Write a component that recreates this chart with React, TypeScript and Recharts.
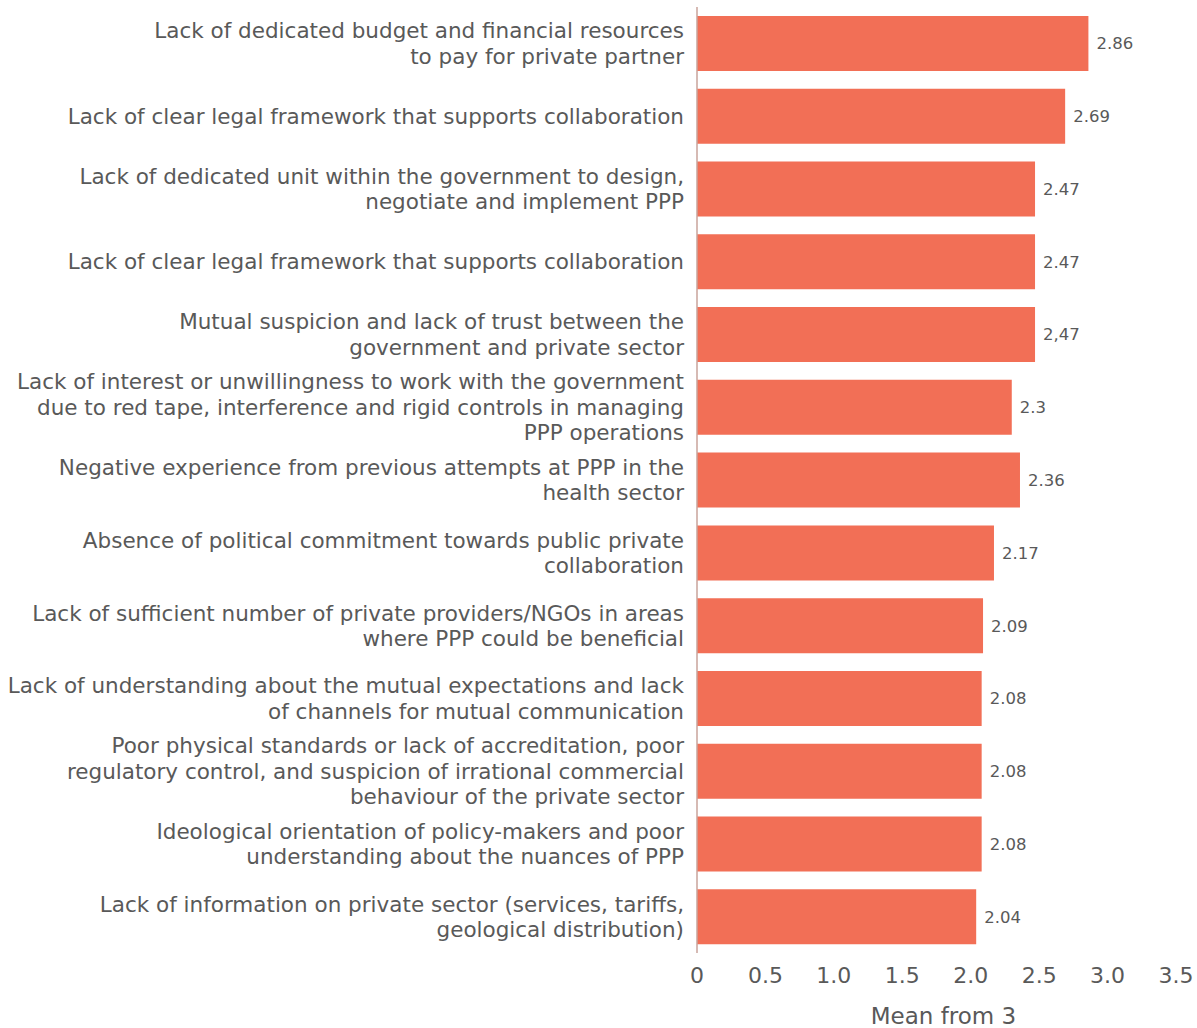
import React from "react";
import { BarChart, Bar, XAxis, YAxis, LabelList } from "recharts";

// barriers to PPP, top to bottom as in the chart
const barriers = [
  "Lack of dedicated budget and financial resources\nto pay for private partner",
  "Lack of clear legal framework that supports collaboration",
  "Lack of dedicated unit within the government to design,\nnegotiate and implement PPP",
  "Lack of clear legal framework that supports collaboration",
  "Mutual suspicion and lack of trust between the\ngovernment and private sector",
  "Lack of interest or unwillingness to work with the government\ndue to red tape, interference and rigid controls in managing\nPPP operations",
  "Negative experience from previous attempts at PPP in the\nhealth sector",
  "Absence of political commitment towards public private\ncollaboration",
  "Lack of sufficient number of private providers/NGOs in areas\nwhere PPP could be beneficial",
  "Lack of understanding about the mutual expectations and lack\nof channels for mutual communication",
  "Poor physical standards or lack of accreditation, poor\nregulatory control, and suspicion of irrational commercial\nbehaviour of the private sector",
  "Ideological orientation of policy-makers and poor\nunderstanding about the nuances of PPP",
  "Lack of information on private sector (services, tariffs,\ngeological distribution)",
];

const means = [2.86, 2.69, 2.47, 2.47, 2.47, 2.3, 2.36, 2.17, 2.09, 2.08, 2.08, 2.08, 2.04];

// printed labels (one uses a comma in the source)
const meanLabels = ["2.86", "2.69", "2.47", "2.47", "2,47", "2.3", "2.36", "2.17", "2.09", "2.08", "2.08", "2.08", "2.04"];

const xTicks = [0, 0.5, 1, 1.5, 2, 2.5, 3, 3.5];

const data = barriers.map((name, i) => ({
  key: `b${i}`,
  name,
  mean: means[i],
  label: meanLabels[i],
}));

const FONT = "'DejaVu Sans', sans-serif";
const GREY = "#595959";

function BarrierTick(props: any) {
  const { x, y, payload } = props;
  const row = data.find((d) => d.key === payload.value);
  const lines = (row ? row.name : "").split("\n");
  const lh = 25.5;
  const start = -((lines.length - 1) * lh) / 2;
  const tx = x - 5;
  return (
    <text x={tx} y={y} textAnchor="end" fill={GREY} fontSize={21.5} fontFamily={FONT}>
      {lines.map((l, i) => (
        <tspan key={i} x={tx} y={y + start + i * lh} dy="0.36em">
          {l}
        </tspan>
      ))}
    </text>
  );
}

export default function App() {
  return (
    <div style={{ position: "absolute", left: 0, top: 0, background: "#fff" }}>
      <BarChart
        width={1197}
        height={1028}
        data={data}
        layout="vertical"
        margin={{ top: 7, right: 21, bottom: 0, left: 0 }}
      >
        <XAxis
          type="number"
          domain={[0, 3.5]}
          ticks={xTicks}
          tickFormatter={(v: number) => (v === 0 ? "0" : v.toFixed(1))}
          axisLine={false}
          tickLine={false}
          tickSize={0}
          tickMargin={14}
          height={75}
          tick={{ fontSize: 22, fill: GREY, fontFamily: FONT }}
          label={{
            value: "Mean from 3",
            position: "insideBottom",
            offset: 4,
            dx: 7,
            fontSize: 23,
            fill: GREY,
            fontFamily: FONT,
          }}
        />
        <YAxis
          type="category"
          dataKey="key"
          width={697}
          tickLine={false}
          axisLine={{ stroke: "#c9a39b", strokeWidth: 1.5 }}
          tick={<BarrierTick />}
          interval={0}
        />
        <Bar dataKey="mean" fill="#f26f56" barSize={55} isAnimationActive={false}>
          <LabelList
            dataKey="label"
            position="right"
            offset={8}
            style={{ fontSize: 16.5, fill: GREY, fontFamily: FONT }}
          />
        </Bar>
      </BarChart>
    </div>
  );
}
